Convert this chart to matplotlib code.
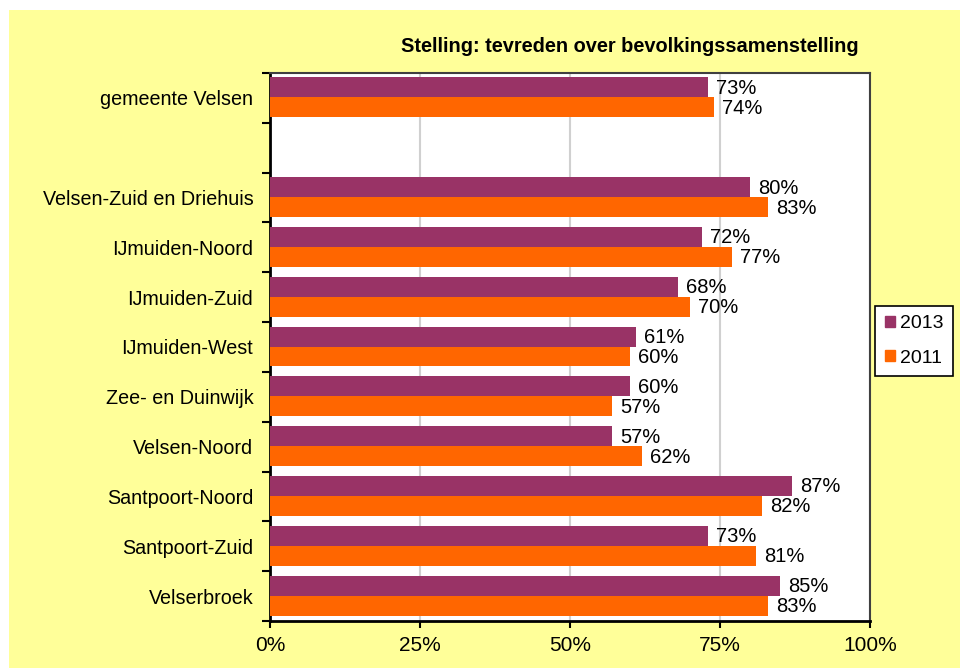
import numpy as np
import matplotlib.pyplot as plt
from matplotlib.patches import Rectangle

plt.rcParams['font.family'] = ['Liberation Sans', 'DejaVu Sans']

# top to bottom, '' is the empty slot under the municipality
categories = ['gemeente Velsen', '', 'Velsen-Zuid en Driehuis', 'IJmuiden-Noord',
              'IJmuiden-Zuid', 'IJmuiden-West', 'Zee- en Duinwijk', 'Velsen-Noord',
              'Santpoort-Noord', 'Santpoort-Zuid', 'Velserbroek']
v2013 = [73, None, 80, 72, 68, 61, 60, 57, 87, 73, 85]
v2011 = [74, None, 83, 77, 70, 60, 57, 62, 82, 81, 83]
xticks = [0, 25, 50, 75, 100]

c2013 = '#993366'
c2011 = '#FF6600'

fig = plt.figure(figsize=(9.6, 6.68), dpi=100)
fig.patch.set_facecolor('white')
fig.patches.append(Rectangle((9 / 960, 0), 1, 1 - 10 / 668, transform=fig.transFigure,
                             facecolor='#FFFF99', edgecolor='none', zorder=-10))

ax = fig.add_axes([270 / 960, 1 - 621 / 668, 600 / 960, 548 / 668])
ax.set_facecolor('white')

n = len(categories)
y = np.arange(n)
h = 0.4
for i in range(n):
    if v2013[i] is None:
        continue
    ax.barh(y[i] - 0.21, v2013[i], height=h, color=c2013, zorder=3)
    ax.barh(y[i] + 0.19, v2011[i], height=h, color=c2011, zorder=3)
    ax.text(v2013[i] + 1.3, y[i] - 0.19, f'{v2013[i]}%', va='center', ha='left', fontsize=14.5)
    ax.text(v2011[i] + 1.3, y[i] + 0.21, f'{v2011[i]}%', va='center', ha='left', fontsize=14.5)

ax.set_xlim(0, 100)
ax.set_ylim(n - 0.5, -0.5)
ax.set_xticks(xticks)
ax.set_xticklabels([f'{t}%' for t in xticks], fontsize=15)
ax.set_yticks(y)
ax.set_yticklabels(categories, fontsize=14.2)
ax.tick_params(axis='y', length=0, pad=12)
ax.set_yticks(np.arange(n + 1) - 0.5, minor=True)
ax.tick_params(axis='y', which='minor', length=6, width=1.5, direction='out')
ax.tick_params(axis='x', length=5, width=1.5, direction='out', pad=6)
ax.grid(axis='x', color='#D0D0D0', linewidth=1.5, zorder=0)

for s in ['left', 'bottom']:
    ax.spines[s].set_linewidth(2)
    ax.spines[s].set_color('black')
for s in ['top', 'right']:
    ax.spines[s].set_linewidth(1.5)
    ax.spines[s].set_color('#404040')

fig.text(630 / 960, 1 - 46 / 668, 'Stelling: tevreden over bevolkingssamenstelling',
         ha='center', va='center', fontsize=14.4, fontweight='bold')

h1 = Rectangle((0, 0), 1, 1, color=c2013)
h2 = Rectangle((0, 0), 1, 1, color=c2011)
leg = fig.legend([h1, h2], ['2013', '2011'], loc='center', bbox_to_anchor=(914 / 960, 1 - 341 / 668),
                 fontsize=14, frameon=True, fancybox=False, framealpha=1, handlelength=0.5,
                 handleheight=0.5, handletextpad=0.25, labelspacing=0.9, borderpad=0.5,
                 borderaxespad=0)
leg.get_frame().set_edgecolor('black')
leg.get_frame().set_facecolor('white')
leg.get_frame().set_linewidth(1.2)

plt.savefig('out.png', dpi=100)
